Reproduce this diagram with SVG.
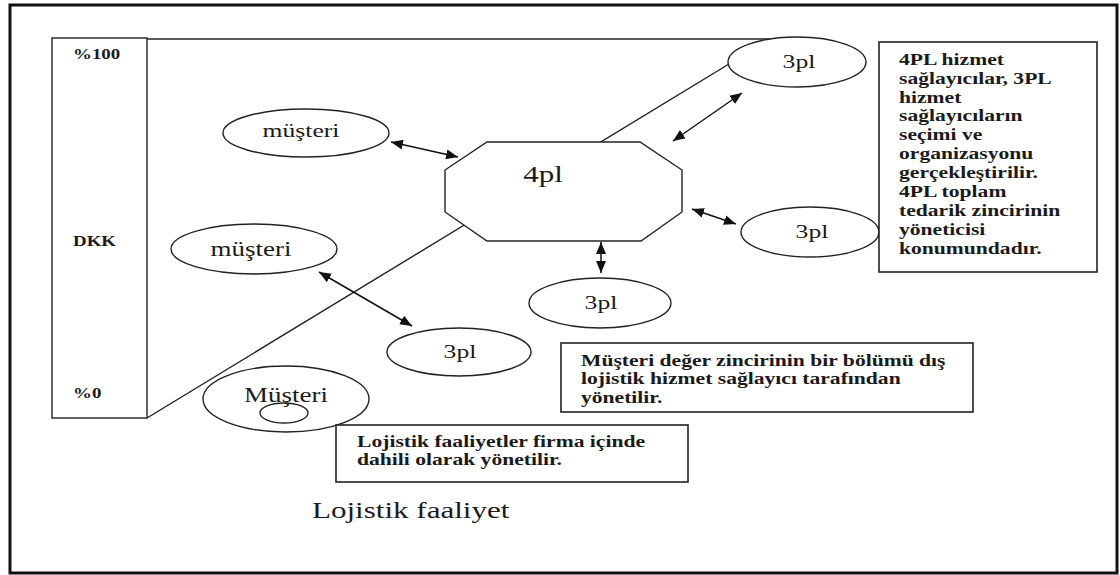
<svg xmlns="http://www.w3.org/2000/svg" width="1120" height="575" viewBox="0 0 1120 575">
<defs>
<marker id="ah" viewBox="0 0 12 10" refX="12" refY="5" markerWidth="12" markerHeight="10" markerUnits="userSpaceOnUse" orient="auto-start-reverse"><path d="M0,0 L12,5 L0,10 z" fill="#111"/></marker>
<style>
.ln{stroke:#222;stroke-width:1.4;fill:none}
.sh{stroke:#222;stroke-width:1.4;fill:#fff}
.bx{stroke:#222;stroke-width:1.6;fill:#fff}
.ar{stroke:#111;stroke-width:1.5;fill:none;marker-start:url(#ah);marker-end:url(#ah)}
.t{font-family:"Liberation Serif","Times New Roman",serif;fill:#1a1a1a}
.lb{font-size:19px;text-anchor:middle}
.bd{font-weight:bold;font-size:16px}
.ax{font-weight:bold;font-size:14px}
</style>
</defs>
<rect x="10" y="5" width="1107" height="568" fill="#fff" stroke="#111" stroke-width="3"/>
<g id="panel">
<rect x="52" y="38" width="95" height="380" class="ln"/>
<line x1="147" y1="39" x2="770" y2="39" class="ln"/>
<line x1="147" y1="418" x2="729" y2="64" class="ln"/>
<text class="t ax" transform="translate(73,59) scale(1.35,1)">%100</text>
<text class="t ax" transform="translate(73,246) scale(1.35,1)">DKK</text>
<text class="t ax" transform="translate(73,398) scale(1.35,1)">%0</text>
</g>
<g id="connectors">
<line x1="391" y1="142" x2="458" y2="157" class="ar"/>
<line x1="673" y1="141" x2="742" y2="93" class="ar"/>
<line x1="692" y1="209" x2="736" y2="224" class="ar"/>
<line x1="601" y1="242" x2="601" y2="273" class="ar"/>
<line x1="319" y1="272" x2="412" y2="326" class="ar"/>
</g>
<g id="n4pl">
<polygon points="487,142 640,142 682,170 682,212 641,241 487,241 445,212 445,170" class="sh"/>
<text class="t" style="font-size:23px;text-anchor:middle" transform="translate(543,182) scale(1.35,1)">4pl</text>
</g>
<g id="n3pl_top">
<ellipse cx="797" cy="62" rx="69" ry="25" class="sh"/>
<text class="t lb" transform="translate(799,68) scale(1.35,1)">3pl</text>
</g>
<g id="n3pl_right">
<ellipse cx="810" cy="232" rx="69" ry="25" class="sh"/>
<text class="t lb" transform="translate(812,238) scale(1.35,1)">3pl</text>
</g>
<g id="n3pl_mid">
<ellipse cx="600" cy="303" rx="71" ry="25" class="sh"/>
<text class="t lb" transform="translate(601,309) scale(1.35,1)">3pl</text>
</g>
<g id="n3pl_low">
<ellipse cx="459" cy="352" rx="72" ry="24" class="sh"/>
<text class="t lb" transform="translate(460,358) scale(1.35,1)">3pl</text>
</g>
<g id="nmusteri1">
<ellipse cx="306" cy="133" rx="83" ry="24" class="sh"/>
<text class="t" style="font-size:19px;text-anchor:middle" transform="translate(301,137) scale(1.35,1)">müşteri</text>
</g>
<g id="nmusteri2">
<ellipse cx="254" cy="249" rx="83" ry="25" class="sh"/>
<text class="t" style="font-size:20px;text-anchor:middle" transform="translate(251,256) scale(1.35,1)">müşteri</text>
</g>
<g id="nMusteri">
<ellipse cx="286" cy="399" rx="83" ry="33" class="sh"/>
<text class="t" style="font-size:20px;text-anchor:middle" transform="translate(286,402) scale(1.35,1)">Müşteri</text>
<ellipse cx="284" cy="413" rx="24" ry="10" class="ln"/>
</g>
<g id="box4pl">
<rect x="879" y="42" width="218" height="230" class="bx"/>
<text class="t bd" transform="translate(899,0) scale(1.35,1)">
<tspan x="0" y="65">4PL hizmet</tspan>
<tspan x="0" y="84">sağlayıcılar, 3PL</tspan>
<tspan x="0" y="103">hizmet</tspan>
<tspan x="0" y="121.5">sağlayıcıların</tspan>
<tspan x="0" y="140.5">seçimi ve</tspan>
<tspan x="0" y="159.5">organizasyonu</tspan>
<tspan x="0" y="178.5">gerçekleştirilir.</tspan>
<tspan x="0" y="197.5">4PL toplam</tspan>
<tspan x="0" y="216">tedarik zincirinin</tspan>
<tspan x="0" y="235">yöneticisi</tspan>
<tspan x="0" y="254">konumundadır.</tspan>
</text>
</g>
<g id="box3pl">
<rect x="561" y="343" width="412" height="69" class="bx"/>
<text class="t bd" transform="translate(581,0) scale(1.35,1)">
<tspan x="0" y="366">Müşteri değer zincirinin bir bölümü dış</tspan>
<tspan x="0" y="384">lojistik hizmet sağlayıcı tarafından</tspan>
<tspan x="0" y="403">yönetilir.</tspan>
</text>
</g>
<g id="boxinternal">
<rect x="336" y="425" width="352" height="57" class="bx"/>
<text class="t bd" transform="translate(357,0) scale(1.35,1)">
<tspan x="0" y="447">Lojistik faaliyetler firma içinde</tspan>
<tspan x="0" y="465">dahili olarak yönetilir.</tspan>
</text>
</g>
<g id="caption">
<text class="t" style="font-size:23px" transform="translate(312,518) scale(1.35,1)">Lojistik faaliyet</text>
</g>
</svg>
